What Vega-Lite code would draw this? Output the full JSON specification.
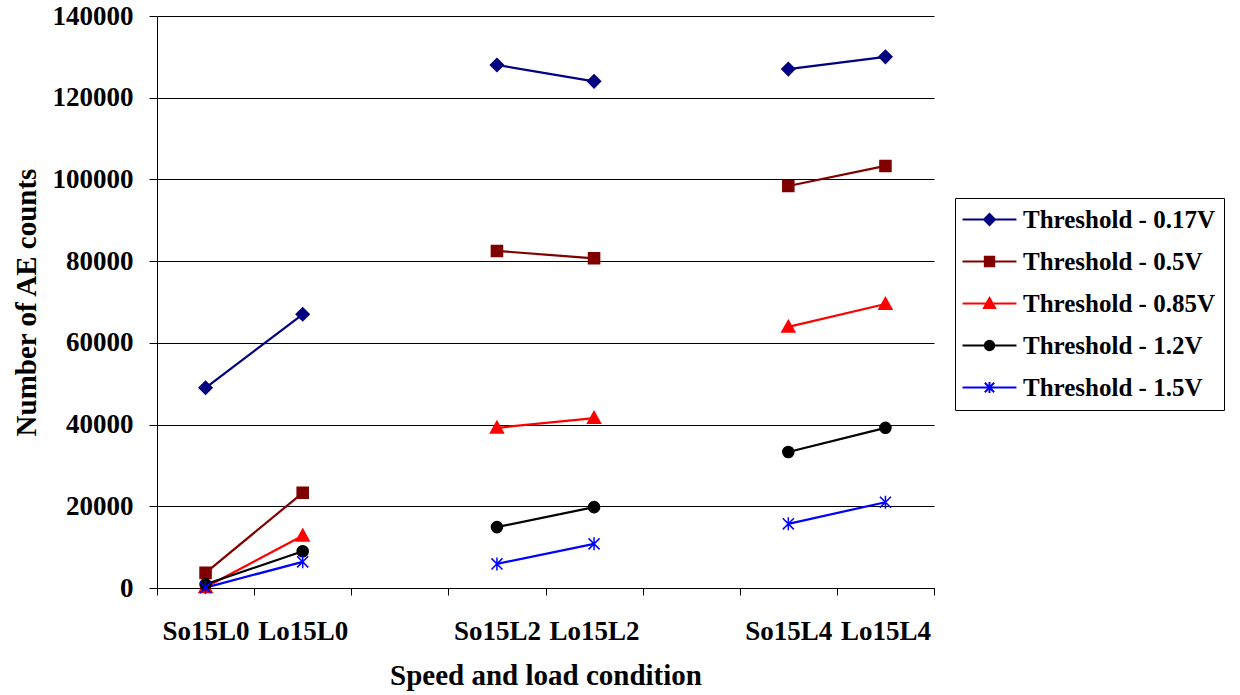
{
  "$schema": "https://vega.github.io/schema/vega-lite/v6.json",
  "width": 777,
  "height": 572,
  "autosize": {"type": "none"},
  "padding": {"left": 157, "top": 16, "right": 306, "bottom": 107},
  "background": "white",
  "config": {"view": {"stroke": null}, "font": "Liberation Serif"},
  "data": {
    "values": [
      {"cond": "So15L0", "grp": "L0", "series": "Threshold - 0.17V", "count": 49000},
      {"cond": "Lo15L0", "grp": "L0", "series": "Threshold - 0.17V", "count": 67000},
      {"cond": "So15L2", "grp": "L2", "series": "Threshold - 0.17V", "count": 128000},
      {"cond": "Lo15L2", "grp": "L2", "series": "Threshold - 0.17V", "count": 124000},
      {"cond": "So15L4", "grp": "L4", "series": "Threshold - 0.17V", "count": 127000},
      {"cond": "Lo15L4", "grp": "L4", "series": "Threshold - 0.17V", "count": 130000},
      {"cond": "So15L0", "grp": "L0", "series": "Threshold - 0.5V", "count": 3700},
      {"cond": "Lo15L0", "grp": "L0", "series": "Threshold - 0.5V", "count": 23300},
      {"cond": "So15L2", "grp": "L2", "series": "Threshold - 0.5V", "count": 82500},
      {"cond": "Lo15L2", "grp": "L2", "series": "Threshold - 0.5V", "count": 80700},
      {"cond": "So15L4", "grp": "L4", "series": "Threshold - 0.5V", "count": 98400},
      {"cond": "Lo15L4", "grp": "L4", "series": "Threshold - 0.5V", "count": 103300},
      {"cond": "So15L0", "grp": "L0", "series": "Threshold - 0.85V", "count": 200},
      {"cond": "Lo15L0", "grp": "L0", "series": "Threshold - 0.85V", "count": 12800},
      {"cond": "So15L2", "grp": "L2", "series": "Threshold - 0.85V", "count": 39200},
      {"cond": "Lo15L2", "grp": "L2", "series": "Threshold - 0.85V", "count": 41600},
      {"cond": "So15L4", "grp": "L4", "series": "Threshold - 0.85V", "count": 63900},
      {"cond": "Lo15L4", "grp": "L4", "series": "Threshold - 0.85V", "count": 69500},
      {"cond": "So15L0", "grp": "L0", "series": "Threshold - 1.2V", "count": 900},
      {"cond": "Lo15L0", "grp": "L0", "series": "Threshold - 1.2V", "count": 9000},
      {"cond": "So15L2", "grp": "L2", "series": "Threshold - 1.2V", "count": 14900},
      {"cond": "Lo15L2", "grp": "L2", "series": "Threshold - 1.2V", "count": 19800},
      {"cond": "So15L4", "grp": "L4", "series": "Threshold - 1.2V", "count": 33300},
      {"cond": "Lo15L4", "grp": "L4", "series": "Threshold - 1.2V", "count": 39200},
      {"cond": "So15L0", "grp": "L0", "series": "Threshold - 1.5V", "count": 100},
      {"cond": "Lo15L0", "grp": "L0", "series": "Threshold - 1.5V", "count": 6400},
      {"cond": "So15L2", "grp": "L2", "series": "Threshold - 1.5V", "count": 5900},
      {"cond": "Lo15L2", "grp": "L2", "series": "Threshold - 1.5V", "count": 10800},
      {"cond": "So15L4", "grp": "L4", "series": "Threshold - 1.5V", "count": 15700},
      {"cond": "Lo15L4", "grp": "L4", "series": "Threshold - 1.5V", "count": 21000}
    ]
  },
  "encoding": {
    "x": {
      "field": "cond",
      "type": "nominal",
      "bandPosition": 0.5,
      "scale": {
        "type": "band",
        "domain": ["So15L0", "Lo15L0", " ", "So15L2", "Lo15L2", "  ", "So15L4", "Lo15L4"],
        "paddingInner": 0,
        "paddingOuter": 0
      },
      "axis": {
        "title": "Speed and load condition",
        "titleFont": "Liberation Serif",
        "titleFontSize": 29,
        "titleFontWeight": "bold",
        "titleColor": "black",
        "titlePadding": 17,
        "labelFont": "Liberation Serif",
        "labelFontSize": 27,
        "labelFontWeight": "bold",
        "labelColor": "black",
        "labelPadding": 23,
        "labelAngle": 0,
        "tickBand": "extent",
        "tickSize": 7,
        "tickColor": "black",
        "tickWidth": 1,
        "domainColor": "black",
        "domainWidth": 1,
        "grid": false
      }
    },
    "y": {
      "field": "count",
      "type": "quantitative",
      "scale": {"domain": [0, 140000], "nice": false},
      "axis": {
        "title": "Number of AE counts",
        "values": [0, 20000, 40000, 60000, 80000, 100000, 120000, 140000],
        "format": "d",
        "grid": true,
        "gridColor": "black",
        "gridWidth": 1,
        "gridOpacity": 1,
        "tickSize": 8,
        "tickColor": "black",
        "tickWidth": 1,
        "domainColor": "black",
        "domainWidth": 1,
        "labelFont": "Liberation Serif",
        "labelFontSize": 27,
        "labelFontWeight": "bold",
        "labelColor": "black",
        "labelPadding": 16,
        "titleFont": "Liberation Serif",
        "titleFontSize": 29,
        "titleFontWeight": "bold",
        "titleColor": "black",
        "titlePadding": 11
      }
    }
  },
  "resolve": {"scale": {"shape": "independent", "stroke": "independent", "fill": "independent"}},
  "layer": [
    {
      "mark": {"type": "line", "strokeWidth": 2.2},
      "encoding": {
        "color": {
          "field": "series",
          "type": "nominal",
          "scale": {
            "domain": ["Threshold - 0.17V", "Threshold - 0.5V", "Threshold - 0.85V", "Threshold - 1.2V", "Threshold - 1.5V"],
            "range": ["#000080", "#800000", "#FF0000", "#000000", "#0000FF"]
          },
          "legend": null
        },
        "detail": {"field": "grp", "type": "nominal"}
      }
    },
    {
      "mark": {"type": "point", "filled": true, "size": 169, "strokeWidth": 1.5, "opacity": 1},
      "encoding": {
        "color": {
          "field": "series",
          "type": "nominal",
          "legend": null
        },
        "stroke": {
          "field": "series",
          "type": "nominal",
          "scale": {
            "domain": ["Threshold - 0.17V", "Threshold - 0.5V", "Threshold - 0.85V", "Threshold - 1.2V", "Threshold - 1.5V"],
            "range": ["#000080", "#800000", "#FF0000", "#000000", "#0000FF"]
          },
          "legend": null
        },
        "shape": {
          "field": "series",
          "type": "nominal",
          "scale": {
            "domain": ["Threshold - 0.17V", "Threshold - 0.5V", "Threshold - 0.85V", "Threshold - 1.2V", "Threshold - 1.5V"],
            "range": [
              "M0,-1L1,0L0,1L-1,0Z",
              "M-0.85,-0.85L0.85,-0.85L0.85,0.85L-0.85,0.85Z",
              "M0,-1L1,0.8L-1,0.8Z",
              "M-0.85,0A0.85,0.85 0 1,0 0.85,0A0.85,0.85 0 1,0 -0.85,0Z",
              "M0,-1L0,1M-0.85,-0.85L0.85,0.85M-0.85,0.85L0.85,-0.85"
            ]
          },
          "legend": null
        }
      }
    },
    {
      "transform": [{"filter": "false"}],
      "mark": {"type": "point", "filled": true, "strokeWidth": 2, "opacity": 1, "fillOpacity": 1, "strokeOpacity": 1},
      "encoding": {
        "fill": {
          "field": "series",
          "type": "nominal",
          "scale": {
            "domain": ["Threshold - 0.17V", "Threshold - 0.5V", "Threshold - 0.85V", "Threshold - 1.2V", "Threshold - 1.5V"],
            "range": ["#000080", "#800000", "#FF0000", "#000000", "#0000FF"]
          },
          "legend": {
            "orient": "none",
            "legendX": 798,
            "legendY": 182,
            "title": null,
            "strokeColor": "black",
            "fillColor": "white",
            "padding": 9,
            "labelFont": "Liberation Serif",
            "labelFontSize": 25,
            "labelFontWeight": "bold",
            "labelColor": "black",
            "labelLimit": 400,
            "symbolSize": 121,
            "symbolStrokeWidth": 2,
            "symbolOpacity": 1,
            "symbolFillOpacity": 1,
            "rowPadding": 16,
            "symbolOffset": 13,
            "labelOffset": 21
          }
        },
        "stroke": {
          "field": "series",
          "type": "nominal",
          "scale": {
            "domain": ["Threshold - 0.17V", "Threshold - 0.5V", "Threshold - 0.85V", "Threshold - 1.2V", "Threshold - 1.5V"],
            "range": ["#000080", "#800000", "#FF0000", "#000000", "#0000FF"]
          }
        },
        "shape": {
          "field": "series",
          "type": "nominal",
          "scale": {
            "domain": ["Threshold - 0.17V", "Threshold - 0.5V", "Threshold - 0.85V", "Threshold - 1.2V", "Threshold - 1.5V"],
            "range": [
              "M0,-1L1,0L0,1L-1,0ZM-4.9,0L4.9,0",
              "M-0.85,-0.85L0.85,-0.85L0.85,0.85L-0.85,0.85ZM-4.9,0L4.9,0",
              "M0,-1L1,0.8L-1,0.8ZM-4.9,0L4.9,0",
              "M-0.85,0A0.85,0.85 0 1,0 0.85,0A0.85,0.85 0 1,0 -0.85,0ZM-4.9,0L4.9,0",
              "M0,-1L0,1M-0.85,-0.85L0.85,0.85M-0.85,0.85L0.85,-0.85M-4.9,0L4.9,0"
            ]
          }
        }
      }
    }
  ]
}
